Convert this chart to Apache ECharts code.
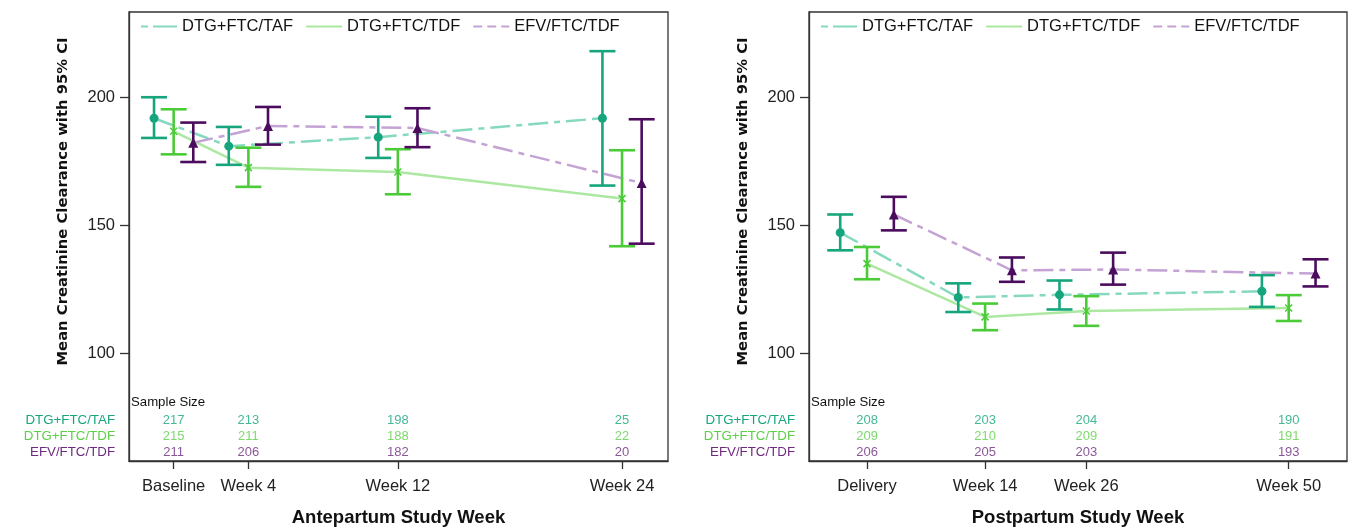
<!DOCTYPE html>
<html>
<head>
<meta charset="utf-8">
<script src="https://cdn.jsdelivr.net/npm/echarts@6/dist/echarts.min.js"></script>
<style>
  html, body { margin: 0; padding: 0; background: #fff; }
  #chart { width: 1350px; height: 527px; }
</style>
</head>
<body>
<div id="chart"></div>
<script>
var names = ['DTG+FTC/TAF', 'DTG+FTC/TDF', 'EFV/FTC/TDF'];

// antepartum panel
var anteWeeks = [0, 4, 12, 24];
var anteLabels = ['Baseline', 'Week 4', 'Week 12', 'Week 24'];
var anteTafMean = [191.8, 180.9, 184.4, 191.8];
var anteTafLow = [184.1, 173.6, 176.3, 165.5];
var anteTafHigh = [200.0, 188.4, 192.4, 218.0];
var anteTdfMean = [186.7, 172.5, 170.8, 160.4];
var anteTdfLow = [177.7, 165.0, 162.1, 141.8];
var anteTdfHigh = [195.3, 180.3, 179.7, 179.3];
var anteEfvMean = [182.2, 188.8, 188.0, 166.5];
var anteEfvLow = [174.7, 181.5, 180.5, 142.8];
var anteEfvHigh = [190.1, 196.2, 195.7, 191.4];
var anteTafN = [217, 213, 198, 25];
var anteTdfN = [215, 211, 188, 22];
var anteEfvN = [211, 206, 182, 20];

// postpartum panel
var postWeeks = [0, 14, 26, 50];
var postLabels = ['Delivery', 'Week 14', 'Week 26', 'Week 50'];
var postTafMean = [147.1, 121.8, 122.8, 124.2];
var postTafLow = [140.2, 116.1, 117.1, 118.1];
var postTafHigh = [154.2, 127.3, 128.4, 130.5];
var postTdfMean = [135.0, 114.2, 116.5, 117.7];
var postTdfLow = [128.9, 109.0, 110.7, 112.6];
var postTdfHigh = [141.5, 119.4, 122.3, 122.7];
var postEfvMean = [154.2, 132.4, 132.7, 131.1];
var postEfvLow = [148.0, 127.9, 126.8, 126.1];
var postEfvHigh = [161.1, 137.4, 139.3, 136.7];
var postTafN = [208, 203, 204, 190];
var postTdfN = [209, 210, 209, 191];
var postEfvN = [206, 205, 203, 193];

var F = '"Liberation Sans", Arial, sans-serif';
var barColors = ['#16a57d', '#4ccb38', '#4b0c5e'];
var lineColors = ['#86d9c0', '#ade8a2', '#c4a3d4'];
var textColors = ['#17a67c', '#5ccf47', '#6e2a7f'];
var symbols = ['circle', 'path://M0,0L10,10M10,0L0,10', 'triangle'];
var symSizes = [9, 7, 10];
var dashes = [[20, 6, 6, 6], 'solid', [20, 6, 6, 6]];

function lineSeries(k, xs, means, off, ax) {
  return {
    name: names[k], type: 'line', xAxisIndex: ax, yAxisIndex: ax, z: 2,
    symbol: symbols[k], symbolSize: symSizes[k],
    lineStyle: { color: lineColors[k], width: 2.5, type: dashes[k] },
    itemStyle: { color: k == 1 ? 'rgba(0,0,0,0)' : barColors[k], borderColor: barColors[k], borderWidth: k == 1 ? 1.5 : 0 },
    emphasis: { disabled: true },
    data: xs.map(function (w, i) { return [w + off, means[i]]; })
  };
}

function errSeries(k, xs, lows, highs, off, ax) {
  return {
    type: 'custom', xAxisIndex: ax, yAxisIndex: ax, z: 3, silent: true,
    data: xs.map(function (w, i) { return [w + off, lows[i], highs[i]]; }),
    encode: { x: 0, y: [1, 2] },
    renderItem: function (params, api) {
      var lo = api.coord([api.value(0), api.value(1)]);
      var hi = api.coord([api.value(0), api.value(2)]);
      var hw = 13;
      var st = { stroke: barColors[k], lineWidth: 2.6 };
      return {
        type: 'group', children: [
          { type: 'line', shape: { x1: lo[0], y1: lo[1], x2: hi[0], y2: hi[1] }, style: st },
          { type: 'line', shape: { x1: lo[0] - hw, y1: lo[1], x2: lo[0] + hw, y2: lo[1] }, style: st },
          { type: 'line', shape: { x1: hi[0] - hw, y1: hi[1], x2: hi[0] + hw, y2: hi[1] }, style: st }
        ]
      };
    }
  };
}

function nSeries(k, xs, ns, ax) {
  return {
    type: 'scatter', xAxisIndex: ax, yAxisIndex: ax, symbolSize: 1, silent: true,
    itemStyle: { color: 'rgba(0,0,0,0)' },
    label: {
      show: true, position: 'inside', color: textColors[k], fontSize: 13, fontFamily: F,
      formatter: function (p) { return p.value[2]; }
    },
    data: xs.map(function (w, i) { return [w, names[k], ns[i]]; })
  };
}

function mainX(g, weeks, labels, min, max, title) {
  return {
    type: 'value', gridIndex: g, min: min, max: max,
    axisLine: { show: true, onZero: false, lineStyle: { color: '#333', width: 1.3 } },
    axisTick: { show: true, customValues: weeks, length: 8, lineStyle: { color: '#333', width: 1.3 } },
    axisLabel: {
      customValues: weeks, margin: 17, fontSize: 16.5, color: '#222', fontFamily: F,
      formatter: function (v) { return labels[weeks.indexOf(v)]; }
    },
    splitLine: { show: false },
    name: title, nameLocation: 'middle', nameGap: 47,
    nameTextStyle: { fontWeight: 'bold', fontSize: 18.5, fontFamily: F, color: '#111' }
  };
}

function mainY(g) {
  return {
    type: 'value', gridIndex: g, min: 57.9, max: 233.3,
    axisLine: { show: true, onZero: false, lineStyle: { color: '#333', width: 1.3 } },
    axisTick: { show: true, customValues: [100, 150, 200], length: 9, lineStyle: { color: '#333', width: 1.3 } },
    axisLabel: { customValues: [100, 150, 200], margin: 14, fontSize: 16.5, color: '#222', fontFamily: F },
    splitLine: { show: false }
  };
}

function tableX(g, min, max) {
  return { type: 'value', gridIndex: g, min: min, max: max, show: false };
}

function tableY(g) {
  return {
    type: 'category', gridIndex: g, data: [names[2], names[1], names[0]],
    axisLine: { show: false }, axisTick: { show: false }, splitLine: { show: false },
    axisLabel: {
      interval: 0, margin: 14, fontSize: 13.3, fontFamily: F,
      formatter: function (v) { return '{r' + names.indexOf(v) + '|' + v + '}'; },
      rich: {
        r0: { color: textColors[0], fontSize: 13.3, fontFamily: F },
        r1: { color: textColors[1], fontSize: 13.3, fontFamily: F },
        r2: { color: textColors[2], fontSize: 13.3, fontFamily: F }
      }
    }
  };
}

function legendAt(left) {
  return {
    left: left, top: 18, padding: 0, itemWidth: 36, itemHeight: 14, itemGap: 12,
    textStyle: { fontFamily: F, fontSize: 16.5, color: '#111' },
    itemStyle: { opacity: 0 },
    selectedMode: false,
    data: [
      { name: names[0], lineStyle: { type: [7, 5, 24, 5] } },
      { name: names[1] },
      { name: names[2], lineStyle: { type: [9, 5] } }
    ]
  };
}

function yTitle(x) {
  return {
    type: 'text', x: x, y: 201.5, rotation: Math.PI / 2,
    style: { text: 'Mean Creatinine Clearance with 95% CI', align: 'center', verticalAlign: 'middle',
      fontSize: 14.8, fontWeight: 'bold', fontFamily: '"DejaVu Sans", sans-serif', fill: '#111' }
  };
}

function sampleTitle(x) {
  return {
    type: 'text', x: x, y: 402.7,
    style: { text: 'Sample Size', align: 'left', verticalAlign: 'middle', fontSize: 13.2, fontFamily: F, fill: '#111' }
  };
}

var anteOff = 1.05, postOff = 3.18;
var anteMin = -2.39, anteMax = 26.46;
var postMin = -6.88, postMax = 56.91;

var chart = echarts.init(document.getElementById('chart'));
chart.setOption({
  backgroundColor: '#fff',
  animation: false,
  legend: [legendAt(140), legendAt(820)],
  grid: [
    { left: 129, top: 12, width: 539, height: 449, show: true, borderColor: '#333', borderWidth: 1.3, outerBoundsMode: 'none' },
    { left: 809, top: 12, width: 538, height: 449, show: true, borderColor: '#333', borderWidth: 1.3, outerBoundsMode: 'none' },
    { left: 129, top: 412.7, width: 539, height: 48, outerBoundsMode: 'none' },
    { left: 809, top: 412.7, width: 538, height: 48, outerBoundsMode: 'none' }
  ],
  xAxis: [
    mainX(0, anteWeeks, anteLabels, anteMin, anteMax, 'Antepartum Study Week'),
    mainX(1, postWeeks, postLabels, postMin, postMax, 'Postpartum Study Week'),
    tableX(2, anteMin, anteMax),
    tableX(3, postMin, postMax)
  ],
  yAxis: [mainY(0), mainY(1), tableY(2), tableY(3)],
  graphic: [yTitle(63), yTitle(743), sampleTitle(131), sampleTitle(811)],
  series: [
    lineSeries(0, anteWeeks, anteTafMean, -anteOff, 0),
    lineSeries(1, anteWeeks, anteTdfMean, 0, 0),
    lineSeries(2, anteWeeks, anteEfvMean, anteOff, 0),
    errSeries(0, anteWeeks, anteTafLow, anteTafHigh, -anteOff, 0),
    errSeries(1, anteWeeks, anteTdfLow, anteTdfHigh, 0, 0),
    errSeries(2, anteWeeks, anteEfvLow, anteEfvHigh, anteOff, 0),
    lineSeries(0, postWeeks, postTafMean, -postOff, 1),
    lineSeries(1, postWeeks, postTdfMean, 0, 1),
    lineSeries(2, postWeeks, postEfvMean, postOff, 1),
    errSeries(0, postWeeks, postTafLow, postTafHigh, -postOff, 1),
    errSeries(1, postWeeks, postTdfLow, postTdfHigh, 0, 1),
    errSeries(2, postWeeks, postEfvLow, postEfvHigh, postOff, 1),
    nSeries(0, anteWeeks, anteTafN, 2),
    nSeries(1, anteWeeks, anteTdfN, 2),
    nSeries(2, anteWeeks, anteEfvN, 2),
    nSeries(0, postWeeks, postTafN, 3),
    nSeries(1, postWeeks, postTdfN, 3),
    nSeries(2, postWeeks, postEfvN, 3)
  ]
});
</script>
</body>
</html>
